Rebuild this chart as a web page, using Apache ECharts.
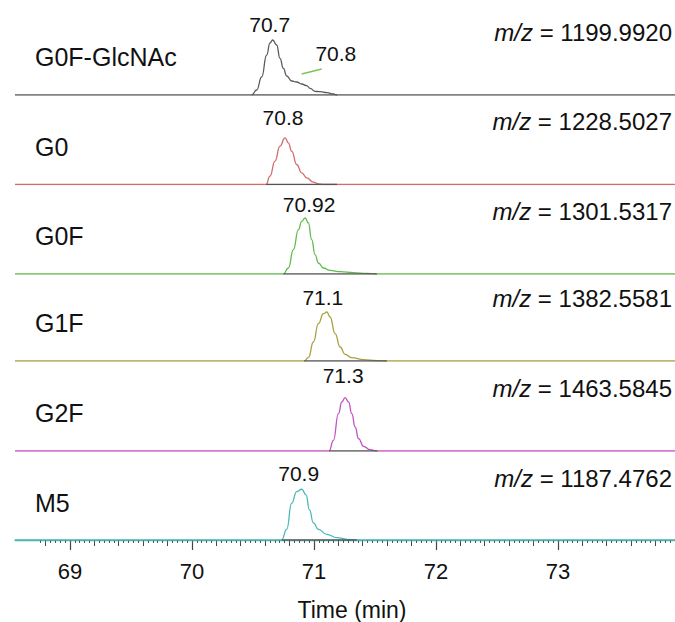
<!DOCTYPE html>
<html><head><meta charset="utf-8">
<script src="https://cdn.jsdelivr.net/npm/echarts@6/dist/echarts.min.js"></script>
<style>html,body{margin:0;padding:0;background:#fff}#c{width:675px;height:622px}</style>
</head><body><div id="c"></div>
<script>
// ---------------- data ----------------
const glycans = ['G0F-GlcNAc', 'G0', 'G0F', 'G1F', 'G2F', 'M5'];
const mzValues = ['1199.9920', '1228.5027', '1301.5317', '1382.5581', '1463.5845', '1187.4762'];
const peakLabels = ['70.7', '70.8', '70.92', '71.1', '71.3', '70.9'];
const shoulderLabel = '70.8';
const xMin = 68.55, xMax = 73.96;
const majorTicks = [69, 70, 71, 72, 73];
const axisTitle = 'Time (min)';

const timeG0FGlcNAc = [70.490,70.531,70.572,70.613,70.640,70.662,70.695,70.722,70.750,70.777,70.818,70.859,70.900,70.941,70.969,71.010,71.051,71.106,71.160,71.188];
const intG0FGlcNAc  = [0,5,18,40,52,55,50,36.7,26.7,19,14,13,11,9.3,6.7,3.7,3.3,2.3,1,0];
const timeG0 = [70.608,70.640,70.681,70.722,70.763,70.791,70.818,70.859,70.900,70.941,70.996,71.037,71.078];
const intG0  = [0,8.3,23.3,38.3,46.7,41.7,33.3,20,11.7,6.7,2.3,0.7,0];
const timeG0F = [70.750,70.791,70.832,70.873,70.900,70.928,70.955,70.982,71.010,71.037,71.078,71.133,71.215,71.325,71.434,71.516];
const intG0F  = [0,6,24.3,44.3,52.6,56,51,34.3,19.3,11,6,3.6,2.3,1.3,0.6,0];
const timeG1F = [70.920,70.955,70.996,71.037,71.078,71.106,71.133,71.174,71.215,71.256,71.311,71.407,71.516,71.598];
const intG1F  = [0,3.3,19,37.3,47.3,49,44,27.3,14,6.7,3.3,1.3,0.3,0];
const timeG2F = [71.125,71.160,71.201,71.229,71.256,71.284,71.311,71.338,71.366,71.407,71.461,71.516];
const intG2F  = [0,10.7,37.3,49,53.4,49,37.3,24,12.3,4.7,1.3,0];
const timeM5 = [70.736,70.777,70.818,70.859,70.900,70.936,70.963,70.996,71.037,71.106,71.188,71.270,71.352];
const intM5  = [0,10.7,37.3,49,51.4,45.7,30.7,17.4,10.7,5.7,2.4,0.7,0];

const integStart = [70.49, 70.608, 70.75, 70.92, 71.125, 70.736];
const integEnd   = [71.19, 71.19, 71.516, 71.598, 71.52, 71.352];

// ---------------- styling ----------------
const times = [timeG0FGlcNAc, timeG0, timeG0F, timeG1F, timeG2F, timeM5];
const ints  = [intG0FGlcNAc, intG0, intG0F, intG1F, intG2F, intM5];
const colors = ['#5a5a5a', '#d36b6b', '#62b94c', '#aa9f42', '#c251c2', '#4db7b7'];
const baselines = [95, 184.5, 274, 361, 451, 541];
const labelOffsets = [[-3,-16],[-2,-20],[4,-14],[-4,-15],[-2,-22],[-3,-16]];
const gridH = 80;
const FONT = '"Liberation Sans", Arial, sans-serif';

function range(a, b, step) {
  const out = []; const n = Math.round((b - a) / step);
  for (let k = 0; k <= n; k++) out.push(+(a + k * step).toFixed(4));
  return out;
}
const mediumTicks = range(68.8, 73.8, 0.2);
const minorTicks = range(68.76, 73.96, 0.04);

const grids = [], xAxes = [], yAxes = [], series = [], titles = [];
for (let i = 0; i < 6; i++) {
  grids.push({ left: 15, right: 0, top: baselines[i] - gridH, height: gridH });
  yAxes.push({ gridIndex: i, type: 'value', min: 0, max: gridH, show: false });
  if (i < 5) {
    xAxes.push({ gridIndex: i, type: 'value', min: xMin, max: xMax, show: false });
  }
}
// bottom grid: three overlaid axes for major / medium / minor ticks
const bottomAxis = xAxes.length;
xAxes.push({
  gridIndex: 5, type: 'value', min: xMin, max: xMax, position: 'bottom', offset: 0,
  axisLine: { show: true, onZero: false, lineStyle: { color: colors[5], width: 1.3 } },
  splitLine: { show: false },
  axisTick: { show: true, customValues: majorTicks, length: 10, lineStyle: { color: '#444', width: 1.2 } },
  axisLabel: { show: true, customValues: majorTicks, margin: 20, fontSize: 22, color: '#111', fontFamily: FONT },
  name: axisTitle, nameLocation: 'middle', nameGap: 58,
  nameTextStyle: { fontSize: 23, color: '#111', fontFamily: FONT, padding: [0, 0, 0, 14] }
});
xAxes.push({
  gridIndex: 5, type: 'value', min: xMin, max: xMax, position: 'bottom', offset: 0,
  axisLine: { show: false, onZero: false }, splitLine: { show: false },
  axisTick: { show: true, customValues: mediumTicks, length: 6, lineStyle: { color: '#444', width: 1 } },
  axisLabel: { show: false }
});
xAxes.push({
  gridIndex: 5, type: 'value', min: xMin, max: xMax, position: 'bottom', offset: 0,
  axisLine: { show: false, onZero: false }, splitLine: { show: false },
  axisTick: { show: true, customValues: minorTicks, length: 3, lineStyle: { color: '#555', width: 1 } },
  axisLabel: { show: false }
});

for (let i = 0; i < 6; i++) {
  const xi = i < 5 ? i : bottomAxis;
  const data = [[xMin, 0]];
  let apex = 0;
  for (let k = 0; k < times[i].length; k++) {
    data.push([times[i][k], ints[i][k]]);
    if (ints[i][k] > ints[i][apex]) apex = k;
  }
  data.push([xMax, 0]);
  const mpData = [{
    coord: [times[i][apex], ints[i][apex]],
    label: { show: true, formatter: peakLabels[i], position: 'inside', offset: labelOffsets[i],
      fontSize: 21, color: '#111', fontFamily: FONT }
  }];
  const s = {
    type: 'line', xAxisIndex: xi, yAxisIndex: i, data: data,
    showSymbol: false, smooth: 0.5, smoothMonotone: 'x',
    lineStyle: { color: colors[i], width: 1.3 }, itemStyle: { color: colors[i] },
    silent: true, animation: false, z: 2,
    markPoint: { symbol: 'circle', symbolSize: 0, silent: true, data: mpData, animation: false }
  };
  if (i === 0) {
    s.markPoint.data.push({
      coord: [71.18, 42],
      label: { show: true, formatter: shoulderLabel, position: 'inside', offset: [0, 0],
        fontSize: 21, color: '#111', fontFamily: FONT }
    });
    s.markLine = {
      silent: true, symbol: ['none', 'none'], animation: false,
      lineStyle: { color: '#7cc45c', width: 1.3, type: 'solid' },
      label: { show: false },
      data: [[{ coord: [70.90, 21] }, { coord: [71.064, 26] }]]
    };
  }
  series.push(s);
  series.push({
    type: 'line', xAxisIndex: xi, yAxisIndex: i,
    data: [[integStart[i], 0], [integEnd[i], 0]],
    showSymbol: false, lineStyle: { color: '#555', width: 1.3 }, silent: true, animation: false, z: 3
  });

  titles.push({
    text: glycans[i], left: 35, top: baselines[i] - 38 - 14, padding: 0,
    textStyle: { fontSize: 25, fontWeight: 'normal', color: '#111', fontFamily: FONT, lineHeight: 28 }
  });
  titles.push({
    text: '{i|m/z} = ' + mzValues[i], right: 3, top: baselines[i] - 63 - 14, padding: 0,
    textStyle: { fontSize: 24, fontWeight: 'normal', color: '#111', fontFamily: FONT, lineHeight: 28,
      rich: { i: { fontStyle: 'italic', fontSize: 24, color: '#111', fontFamily: FONT, lineHeight: 28 } } }
  });
}

const chart = echarts.init(document.getElementById('c'), null, { renderer: 'svg' });
chart.setOption({
  animation: false,
  backgroundColor: '#fff',
  title: titles,
  grid: grids,
  xAxis: xAxes,
  yAxis: yAxes,
  series: series
});
</script>
</body></html>
